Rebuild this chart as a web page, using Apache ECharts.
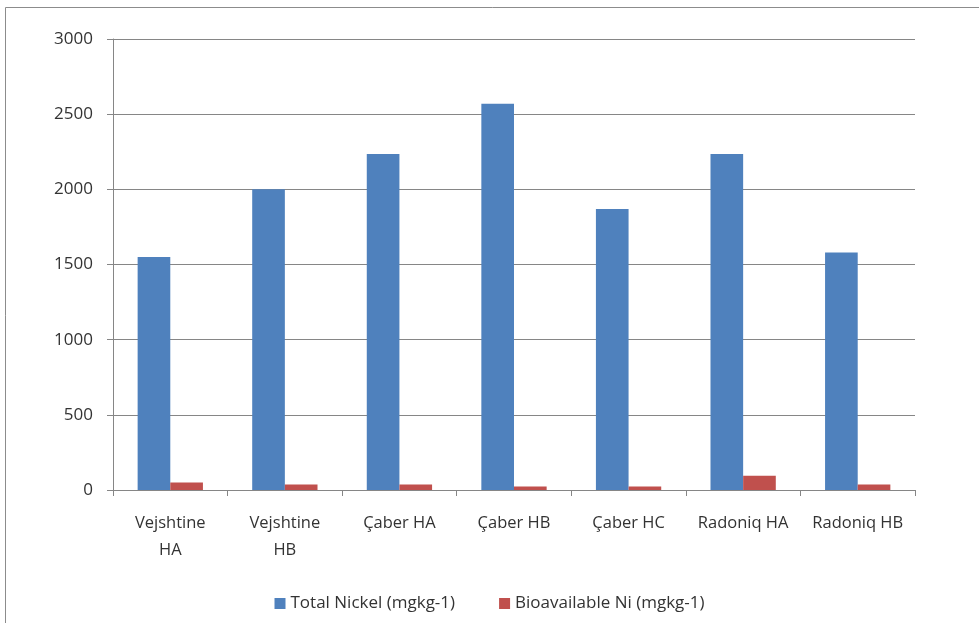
<!DOCTYPE html>
<html>
<head>
<meta charset="utf-8">
<script src="https://cdn.jsdelivr.net/npm/echarts@6/dist/echarts.min.js"></script>
<style>
  html, body { margin: 0; padding: 0; background: #ffffff; }
  #chart { width: 979px; height: 623px; }
</style>
</head>
<body>
<div id="chart"></div>
<script>
// Sampling sites
const categories = ['Vejshtine\nHA', 'Vejshtine\nHB', 'Çaber HA', 'Çaber HB', 'Çaber HC', 'Radoniq HA', 'Radoniq HB'];
// Nickel concentrations, mg/kg
const totalNickel = [1550, 2000, 2235, 2570, 1870, 2235, 1580];
const bioavailableNi = [50, 36, 36, 23, 23, 94, 36];
const seriesNames = ['Total Nickel (mgkg-1)', 'Bioavailable Ni (mgkg-1)'];

const chart = echarts.init(document.getElementById('chart'), null, { renderer: 'canvas' });
const font = 'Open Sans, Noto Sans, sans-serif';
const textColor = '#333333';

chart.setOption({
  backgroundColor: '#ffffff',
  animation: false,
  graphic: [{
    type: 'rect',
    shape: { x: 5.5, y: 7.5, width: 990, height: 640 },
    style: { fill: 'none', stroke: '#8c8c8c', lineWidth: 1 },
    silent: true
  }],
  grid: { left: 113, right: 64, top: 39, bottom: 133, containLabel: false },
  legend: {
    bottom: 6,
    left: 'center',
    itemWidth: 11,
    itemHeight: 11,
    itemGap: 44,
    icon: 'rect',
    textStyle: { fontFamily: font, fontSize: 17, color: textColor },
    data: seriesNames
  },
  xAxis: {
    type: 'category',
    data: categories,
    axisLine: { lineStyle: { color: '#868686', width: 1 } },
    axisTick: { show: true, length: 6, interval: 0, lineStyle: { color: '#868686' } },
    axisLabel: { interval: 0, fontFamily: font, fontSize: 16.5, color: textColor, lineHeight: 27, margin: 20 }
  },
  yAxis: {
    type: 'value',
    min: 0,
    max: 3000,
    interval: 500,
    axisLine: { show: true, lineStyle: { color: '#868686', width: 1 } },
    axisTick: { show: true, length: 6, lineStyle: { color: '#868686' } },
    axisLabel: { fontFamily: font, fontSize: 17, color: textColor, margin: 20, formatter: v => String(v) },
    splitLine: { lineStyle: { color: '#868686', width: 1 } }
  },
  series: [
    {
      name: seriesNames[0],
      type: 'bar',
      data: totalNickel,
      itemStyle: { color: '#4f81bd' },
      barGap: '0%',
      barCategoryGap: '43%'
    },
    {
      name: seriesNames[1],
      type: 'bar',
      data: bioavailableNi,
      itemStyle: { color: '#c0504d' },
      barGap: '0%',
      barCategoryGap: '43%'
    }
  ]
});
</script>
</body>
</html>
